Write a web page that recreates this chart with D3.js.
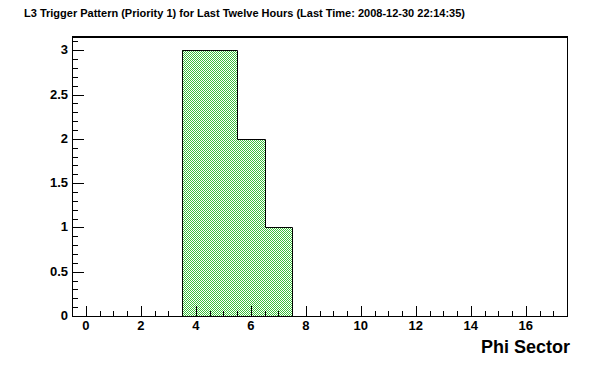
<!DOCTYPE html>
<html>
<head>
<meta charset="utf-8">
<script src="https://cdn.jsdelivr.net/npm/d3@7"></script>
<style>
body { margin: 0; background: #fff; }
text { font-family: "Liberation Sans", Arial, sans-serif; font-weight: bold; }
</style>
</head>
<body>
<script>
// histogram bins, one per phi sector
const sectors = d3.range(0, 18)
const counts = [0, 0, 0, 0, 3, 3, 2, 1, 0, 0, 0, 0, 0, 0, 0, 0, 0, 0]
const xTicks = [0, 2, 4, 6, 8, 10, 12, 14, 16]
const yTicks = [0, 0.5, 1, 1.5, 2, 2.5, 3]
const yTickLabels = ["0", "0.5", "1", "1.5", "2", "2.5", "3"]

const W = 596, H = 372
const padL = 72, padR = 567, padT = 37, padB = 316

const svg = d3.select("body").append("svg")
    .attr("width", W)
    .attr("height", H)

const x = d3.scaleLinear().domain([-0.5, 17.5]).range([padL, padR])
const y = d3.scaleLinear().domain([0, 3.15]).range([padB, padT])

// green checker fill like root's pattern
const pat = svg.append("defs").append("pattern")
    .attr("id", "chk")
    .attr("width", 2).attr("height", 2)
    .attr("patternUnits", "userSpaceOnUse")
pat.append("rect").attr("width", 2).attr("height", 2).attr("fill", "#fff")
pat.append("rect").attr("x", 0).attr("y", 0).attr("width", 1).attr("height", 1).attr("fill", "#3cbf3c")
pat.append("rect").attr("x", 1).attr("y", 1).attr("width", 1).attr("height", 1).attr("fill", "#3cbf3c")

// title
svg.append("text")
    .attr("x", 24).attr("y", 17)
    .attr("font-size", "11px")
    .text("L3 Trigger Pattern (Priority 1) for Last Twelve Hours (Last Time: 2008-12-30 22:14:35)")

// step points of the histogram
let pts = []
sectors.forEach((s, i) => {
    pts.push([s - 0.5, counts[i]])
    pts.push([s + 0.5, counts[i]])
})
const area = d3.area()
    .x(d => Math.round(x(d[0])))
    .y0(y(0))
    .y1(d => Math.round(y(d[1])))
svg.append("path")
    .attr("d", area(pts))
    .attr("fill", "url(#chk)")
    .attr("shape-rendering", "crispEdges")

// outline only where there are entries
const line = d3.line().x(d => Math.round(x(d[0])) + 0.5).y(d => Math.round(y(d[1])) + 0.5)
let first = pts.findIndex(d => d[1] > 0)
let last = pts.length - 1 - [...pts].reverse().findIndex(d => d[1] > 0)
let outline = [[pts[first][0], 0]].concat(pts.slice(first, last + 1)).concat([[pts[last][0], 0]])
svg.append("path")
    .attr("d", line(outline))
    .attr("fill", "none")
    .attr("stroke", "#000")
    .attr("stroke-width", 1)

// frame
svg.append("line").attr("x1", padL).attr("x2", padR + 1).attr("y1", padT).attr("y2", padT)
    .attr("stroke", "#000").attr("stroke-width", 2)
svg.append("line").attr("x1", padR + 0.5).attr("x2", padR + 0.5).attr("y1", padT).attr("y2", padB)
    .attr("stroke", "#000").attr("stroke-width", 1)

// x axis
const xAxis = svg.append("g").attr("transform", `translate(0,${padB})`)
xAxis.append("line").attr("x1", padL).attr("x2", padR + 1).attr("y1", 0.5).attr("y2", 0.5).attr("stroke", "#000")
d3.range(0, 17.51, 0.5).forEach(v => {
    const major = v % 2 === 0
    xAxis.append("line")
        .attr("x1", Math.round(x(v)) + 0.5).attr("x2", Math.round(x(v)) + 0.5)
        .attr("y1", 0).attr("y2", major ? -10 : -5)
        .attr("stroke", "#000")
})
xAxis.selectAll("text.tl").data(xTicks).enter().append("text")
    .attr("x", d => x(d)).attr("y", 13.5)
    .attr("text-anchor", "middle")
    .attr("font-size", "13px")
    .text(d => d)

// y axis
const yAxis = svg.append("g").attr("transform", `translate(${padL},0)`)
yAxis.append("line").attr("x1", 0.5).attr("x2", 0.5).attr("y1", padT).attr("y2", padB + 1).attr("stroke", "#000")
d3.range(0, 3.151, 0.1).forEach(v => {
    const major = Math.abs(v * 2 - Math.round(v * 2)) < 1e-6
    yAxis.append("line")
        .attr("x1", 0).attr("x2", major ? 12 : 6)
        .attr("y1", Math.round(y(v)) + 0.5).attr("y2", Math.round(y(v)) + 0.5)
        .attr("stroke", "#000")
})
yAxis.selectAll("text.tl").data(yTicks).enter().append("text")
    .attr("x", -4).attr("y", d => y(d) + 4)
    .attr("text-anchor", "end")
    .attr("font-size", "13px")
    .text((d, i) => yTickLabels[i])

// axis title
svg.append("text")
    .attr("x", 570).attr("y", 353)
    .attr("text-anchor", "end")
    .attr("font-size", "18px")
    .text("Phi Sector")
</script>
</body>
</html>
